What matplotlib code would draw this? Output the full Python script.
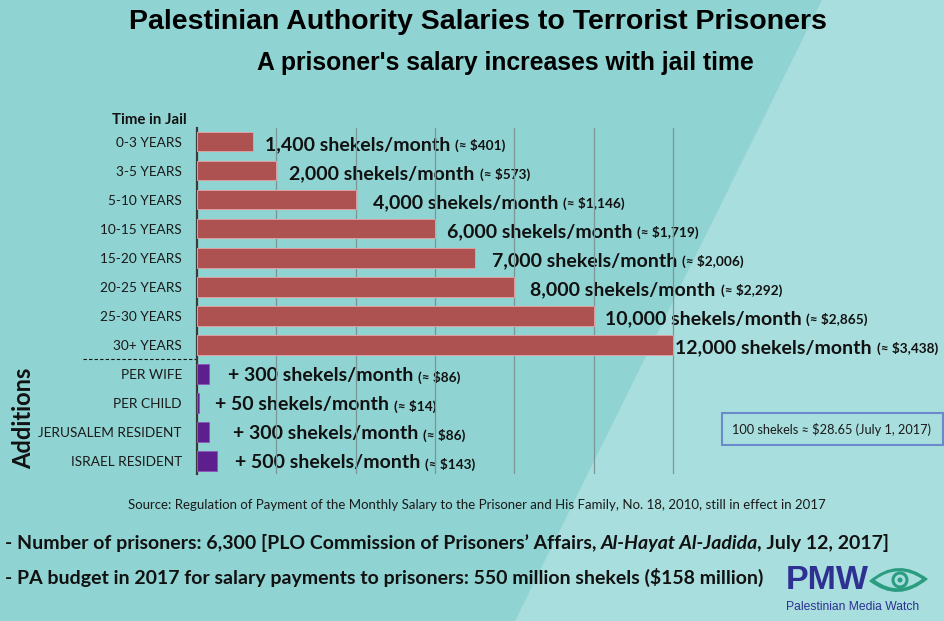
import matplotlib
matplotlib.use("Agg")
import matplotlib.pyplot as plt
from matplotlib.patches import Polygon, Rectangle, PathPatch, Circle
from matplotlib.path import Path

# ---------------- data ----------------
title = "Palestinian Authority Salaries to Terrorist Prisoners"
subtitle = "A prisoner's salary increases with jail time"
axis_heading = "Time in Jail"
additions_heading = "Additions"

jail_categories = ["0-3 YEARS", "3-5 YEARS", "5-10 YEARS", "10-15 YEARS",
                   "15-20 YEARS", "20-25 YEARS", "25-30 YEARS", "30+ YEARS"]
jail_salaries = [1400, 2000, 4000, 6000, 7000, 8000, 10000, 12000]
jail_usd = ["$401", "$573", "$1,146", "$1,719", "$2,006", "$2,292", "$2,865", "$3,438"]

addition_categories = ["PER WIFE", "PER CHILD", "JERUSALEM RESIDENT", "ISRAEL RESIDENT"]
addition_values = [300, 50, 300, 500]
addition_usd = ["$86", "$14", "$86", "$143"]

grid_ticks = [2000, 4000, 6000, 8000, 10000, 12000]

source_text = ("Source: Regulation of Payment of the Monthly Salary to the Prisoner and His Family, "
               "No. 18, 2010, still in effect in 2017")
bullet1_parts = ["- Number of prisoners: 6,300 [PLO Commission of Prisoners\u2019 Affairs,",
                 "Al-Hayat Al-Jadida", ", July 12, 2017]"]
bullet2 = "- PA budget in 2017 for salary payments to prisoners: 550 million shekels ($158 million)"
exchange_note = "100 shekels \u2248 $28.65 (July 1, 2017)"
logo_text = "PMW"
logo_sub = "Palestinian Media Watch"

# ---------------- style / layout ----------------
W, H = 945, 621
BG_LEFT = "#8FD3D2"
BG_RIGHT = "#A8DEDD"
RED = "#AE5151"
PURPLE = "#5E1F8E"
NAVY = "#2E3192"
GREEN = "#2A9D80"
FONT = "Lato"
jail_pad = [12, 13, 17, 12, 17, 16, 11, 2]
add_pad = [19, 16, 24, 18]

fig = plt.figure(figsize=(W / 100, H / 100), dpi=100)

bg = fig.add_axes([0, 0, 1, 1])
bg.set_xlim(0, W)
bg.set_ylim(H, 0)
bg.axis("off")
bg.set_zorder(0)
bg.add_patch(Rectangle((0, 0), W, H, color=BG_LEFT, zorder=0))
bg.add_patch(Polygon([(822, 0), (W, 0), (W, H), (515, H)], closed=True,
                     color=BG_RIGHT, zorder=0))

# main axes
x_left, x_12k = 197, 673
xmax = 13000
ax_w = (x_12k - x_left) * xmax / 12000
ax = fig.add_axes([x_left / W, 1 - 474 / H, ax_w / W, 346 / H])
ax.set_zorder(1)
ax.patch.set_alpha(0)

n_jail = len(jail_categories)
rows_jail = list(range(n_jail))
rows_add = list(range(n_jail, n_jail + len(addition_categories)))

ax.barh(rows_jail, jail_salaries, height=0.66, color=RED, edgecolor="#DDA0A0",
        linewidth=0.7, zorder=3)
ax.barh(rows_add, addition_values, height=0.66, color=PURPLE, edgecolor="#8A5AB8",
        linewidth=0.7, zorder=3)

ax.set_xlim(0, xmax)
ax.set_ylim(11.45, -0.48)
ax.set_xticks(grid_ticks)
ax.set_xticklabels([])
ax.tick_params(axis="x", length=0)
ax.grid(axis="x", color="#7A9696", linewidth=0.9)
ax.set_axisbelow(True)
ax.set_yticks(rows_jail + rows_add)
ax.set_yticklabels(jail_categories + addition_categories, fontfamily=FONT,
                   fontsize=9.8, color="#1a1a1a")
ax.tick_params(axis="y", length=0, pad=10.8)
for s in ["top", "right", "bottom"]:
    ax.spines[s].set_visible(False)
ax.spines["left"].set_color("#3a3a3a")
ax.spines["left"].set_linewidth(1.6)

renderer = fig.canvas.get_renderer()


def run(x, y, parts, gap):
    for s, kw in parts:
        t = bg.text(x, y, s, ha="left", va="baseline", **kw)
        bb = t.get_window_extent(renderer)
        x = bb.x1 + gap
    return x


def bar_end(v, row):
    px, py = ax.transData.transform((v, row))
    return px, H - py


main_kw = dict(fontfamily=FONT, fontweight="bold", fontsize=14, color="#111111")
small_kw = dict(fontfamily=FONT, fontweight="bold", fontsize=9.8, color="#111111")

for row, v, usd, pad in zip(rows_jail, jail_salaries, jail_usd, jail_pad):
    px, py = bar_end(v, row)
    run(px + pad, py + 8, [(f"{v:,} shekels/month", main_kw),
                           (f"(\u2248 {usd})", small_kw)], 5)

for row, v, usd, pad in zip(rows_add, addition_values, addition_usd, add_pad):
    px, py = bar_end(v, row)
    run(px + pad, py + 7.5, [(f"+ {v} shekels/month", main_kw),
                             (f"(\u2248 {usd})", small_kw)], 5)

# headings
bg.text(478, 22, title, ha="center", va="center", fontfamily="Liberation Sans",
        fontweight="bold", fontsize=20.5, color="#000000")
bg.text(505, 63, subtitle, ha="center", va="center", fontfamily="Liberation Sans",
        fontweight="bold", fontsize=17.8, color="#000000")
bg.text(187, 120, axis_heading, ha="right", va="center", fontfamily=FONT,
        fontweight="bold", fontsize=10.8, color="#111111")
bg.text(24, 418, additions_heading, ha="center", va="center", rotation=90,
        fontfamily=FONT, fontweight="bold", fontsize=17, color="#111111")

# dashed separator
sep_y = H - ax.transData.transform((0, n_jail - 0.5))[1]
bg.plot([83, x_left], [sep_y, sep_y], color="#111111", linestyle=(0, (3, 2)), linewidth=0.8)

# source
bg.text(477, 505, source_text, ha="center", va="center", fontfamily=FONT,
        fontsize=9.5, color="#1a1a1a")

# bullets
b_kw = dict(fontfamily=FONT, fontweight="bold", fontsize=14, color="#111111")
bi_kw = dict(fontfamily=FONT, fontweight="bold", fontstyle="italic", fontsize=14,
             color="#111111")
x = run(5, 549, [(bullet1_parts[0], b_kw)], 4.5)
x = run(x, 549, [(bullet1_parts[1], bi_kw)], -1.5)
run(x, 549, [(bullet1_parts[2], b_kw)], 0)
bg.text(5, 584, bullet2, ha="left", va="baseline", **b_kw)

# exchange note box
bg.add_patch(Rectangle((722, 413), 221, 32, facecolor="none", edgecolor="#6A8ACB",
                       linewidth=1.5, zorder=2))
bg.text(832, 429, exchange_note, ha="center", va="center", fontfamily=FONT,
        fontsize=9.2, color="#1a1a1a", zorder=3)

# logo
bg.text(786, 589, logo_text, ha="left", va="baseline", fontfamily="Liberation Sans",
        fontweight="bold", fontsize=24.5, color=NAVY)
bg.text(786, 610, logo_sub, ha="left", va="baseline", fontfamily="Liberation Sans",
        fontsize=8.7, color=NAVY)
outer = Path([(869, 581), (898, 556), (928, 579), (898, 604), (869, 581)],
             [Path.MOVETO, Path.CURVE3, Path.CURVE3, Path.CURVE3, Path.CURVE3])
inner = Path([(875, 580), (898, 563), (922, 579), (898, 597), (875, 580)],
             [Path.MOVETO, Path.CURVE3, Path.CURVE3, Path.CURVE3, Path.CURVE3])
bg.add_patch(PathPatch(outer, facecolor=GREEN, edgecolor="none", zorder=2))
bg.add_patch(PathPatch(inner, facecolor=BG_RIGHT, edgecolor="none", zorder=2))
bg.add_patch(Circle((900, 580), 7, facecolor="none", edgecolor=GREEN, linewidth=2.2, zorder=3))
bg.add_patch(Circle((900, 580), 2.5, facecolor=GREEN, edgecolor="none", zorder=3))

fig.savefig("out.png", dpi=100, facecolor=BG_LEFT)
